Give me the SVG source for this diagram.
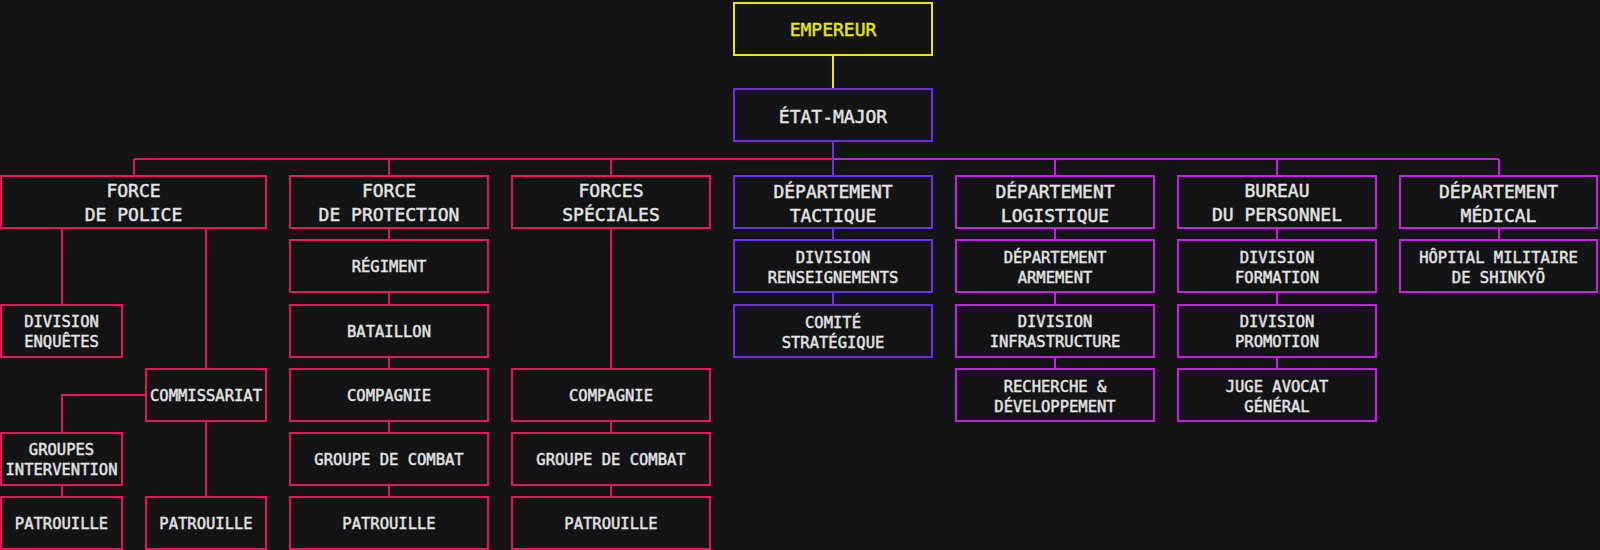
<svg xmlns="http://www.w3.org/2000/svg" width="1600" height="550" viewBox="0 0 1600 550">
<style>
.bg{fill:#141416}
rect.n{fill:#141416;stroke-width:2}
.y{stroke:#e6e619}
.b{stroke:#6a30ee}
.r{stroke:#e5175a}
.m{stroke:#c620e4}
path{fill:none;stroke-width:2}
text{font-family:"DejaVu Sans Mono","Liberation Mono",monospace;fill:#e4e4e4;stroke:#e4e4e4;stroke-width:0.45px;text-anchor:middle}
.L{font-size:18px}
.S{font-size:15.5px}
text.yt{fill:#e6e619;stroke:#e6e619}
</style>
<rect class="bg" x="0" y="0" width="1600" height="550"/>
<g id="connectors">
<path class="r" d="M134 159H833M134 159V175M389 159V175M611 159V175M62 229V304M206 229V368M145 395H62V432M62 486V496M206 422V496M389 229V239M389 293V304M389 358V368M389 422V432M389 486V496M611 229V368M611 422V432M611 486V496"/>
<path class="m" d="M833 159H1499M1055 159V175M1277 159V175M1499 159V175M1055 229V239M1055 293V304M1055 358V368M1277 229V239M1277 293V304M1277 358V368M1499 229V239"/>
<path class="y" d="M833 56V88"/>
<path class="b" d="M833 142V175M833 229V239M833 293V304"/>
</g>
<g id="empereur"><rect class="n y" x="734" y="3" width="198" height="52"/><text class="L yt" x="833" y="35.5">EMPEREUR</text></g>
<g id="etat-major"><rect class="n b" x="734" y="89" width="198" height="52"/><text class="L" x="833" y="123">ÉTAT-MAJOR</text></g>

<g id="force-police"><rect class="n r" x="1" y="176" width="265" height="52"/><text class="L" x="133.5" y="196.5">FORCE</text><text class="L" x="133.5" y="220.5">DE POLICE</text></g>
<g id="division-enquetes"><rect class="n r" x="1" y="305" width="121" height="52"/><text class="S" x="61.5" y="326.6">DIVISION</text><text class="S" x="61.5" y="346.6">ENQUÊTES</text></g>
<g id="commissariat"><rect class="n r" x="146" y="369" width="120" height="52"/><text class="S" x="206" y="400.6">COMMISSARIAT</text></g>
<g id="groupes-intervention"><rect class="n r" x="1" y="433" width="121" height="52"/><text class="S" x="61.5" y="454.6">GROUPES</text><text class="S" x="61.5" y="474.6">INTERVENTION</text></g>
<g id="patrouille-police-1"><rect class="n r" x="1" y="497" width="121" height="52"/><text class="S" x="61.5" y="528.6">PATROUILLE</text></g>
<g id="patrouille-police-2"><rect class="n r" x="146" y="497" width="120" height="52"/><text class="S" x="206" y="528.6">PATROUILLE</text></g>

<g id="force-protection"><rect class="n r" x="290" y="176" width="198" height="52"/><text class="L" x="389" y="196.5">FORCE</text><text class="L" x="389" y="220.5">DE PROTECTION</text></g>
<g id="regiment"><rect class="n r" x="290" y="240" width="198" height="52"/><text class="S" x="389" y="271.6">RÉGIMENT</text></g>
<g id="bataillon"><rect class="n r" x="290" y="305" width="198" height="52"/><text class="S" x="389" y="336.6">BATAILLON</text></g>
<g id="compagnie-protection"><rect class="n r" x="290" y="369" width="198" height="52"/><text class="S" x="389" y="400.6">COMPAGNIE</text></g>
<g id="groupe-combat-protection"><rect class="n r" x="290" y="433" width="198" height="52"/><text class="S" x="389" y="464.6">GROUPE DE COMBAT</text></g>
<g id="patrouille-protection"><rect class="n r" x="290" y="497" width="198" height="52"/><text class="S" x="389" y="528.6">PATROUILLE</text></g>

<g id="forces-speciales"><rect class="n r" x="512" y="176" width="198" height="52"/><text class="L" x="611" y="196.5">FORCES</text><text class="L" x="611" y="220.5">SPÉCIALES</text></g>
<g id="compagnie-speciales"><rect class="n r" x="512" y="369" width="198" height="52"/><text class="S" x="611" y="400.6">COMPAGNIE</text></g>
<g id="groupe-combat-speciales"><rect class="n r" x="512" y="433" width="198" height="52"/><text class="S" x="611" y="464.6">GROUPE DE COMBAT</text></g>
<g id="patrouille-speciales"><rect class="n r" x="512" y="497" width="198" height="52"/><text class="S" x="611" y="528.6">PATROUILLE</text></g>

<g id="dep-tactique"><rect class="n b" x="734" y="176" width="198" height="52"/><text class="L" x="833" y="198">DÉPARTEMENT</text><text class="L" x="833" y="222">TACTIQUE</text></g>
<g id="division-renseignements"><rect class="n b" x="734" y="240" width="198" height="52"/><text class="S" x="833" y="262.6">DIVISION</text><text class="S" x="833" y="282.6">RENSEIGNEMENTS</text></g>
<g id="comite-strategique"><rect class="n b" x="734" y="305" width="198" height="52"/><text class="S" x="833" y="327.6">COMITÉ</text><text class="S" x="833" y="347.6">STRATÉGIQUE</text></g>

<g id="dep-logistique"><rect class="n m" x="956" y="176" width="198" height="52"/><text class="L" x="1055" y="198">DÉPARTEMENT</text><text class="L" x="1055" y="222">LOGISTIQUE</text></g>
<g id="dep-armement"><rect class="n m" x="956" y="240" width="198" height="52"/><text class="S" x="1055" y="262.6">DÉPARTEMENT</text><text class="S" x="1055" y="282.6">ARMEMENT</text></g>
<g id="division-infrastructure"><rect class="n m" x="956" y="305" width="198" height="52"/><text class="S" x="1055" y="326.6">DIVISION</text><text class="S" x="1055" y="346.6">INFRASTRUCTURE</text></g>
<g id="recherche-developpement"><rect class="n m" x="956" y="369" width="198" height="52"/><text class="S" x="1055" y="391.6">RECHERCHE &amp;</text><text class="S" x="1055" y="411.6">DÉVELOPPEMENT</text></g>

<g id="bureau-personnel"><rect class="n m" x="1178" y="176" width="198" height="52"/><text class="L" x="1277" y="196.5">BUREAU</text><text class="L" x="1277" y="220.5">DU PERSONNEL</text></g>
<g id="division-formation"><rect class="n m" x="1178" y="240" width="198" height="52"/><text class="S" x="1277" y="262.6">DIVISION</text><text class="S" x="1277" y="282.6">FORMATION</text></g>
<g id="division-promotion"><rect class="n m" x="1178" y="305" width="198" height="52"/><text class="S" x="1277" y="326.6">DIVISION</text><text class="S" x="1277" y="346.6">PROMOTION</text></g>
<g id="juge-avocat"><rect class="n m" x="1178" y="369" width="198" height="52"/><text class="S" x="1277" y="391.6">JUGE AVOCAT</text><text class="S" x="1277" y="411.6">GÉNÉRAL</text></g>

<g id="dep-medical"><rect class="n m" x="1400" y="176" width="197" height="52"/><text class="L" x="1498.5" y="198">DÉPARTEMENT</text><text class="L" x="1498.5" y="222">MÉDICAL</text></g>
<g id="hopital-militaire"><rect class="n m" x="1400" y="240" width="197" height="52"/><text class="S" x="1498.5" y="262.6">HÔPITAL MILITAIRE</text><text class="S" x="1498.5" y="282.6">DE SHINKYŌ</text></g>
</svg>
